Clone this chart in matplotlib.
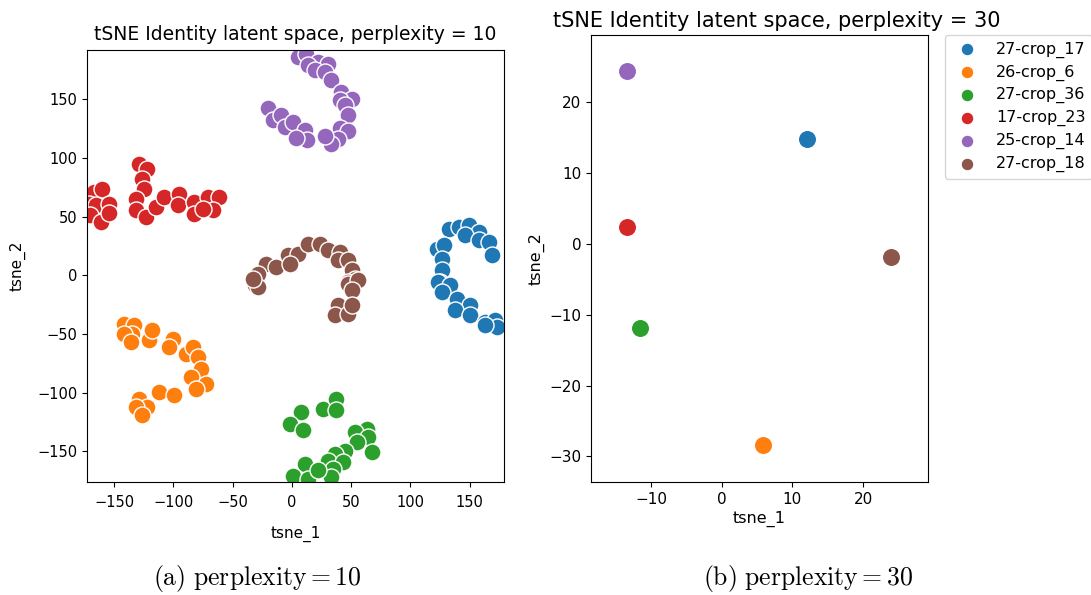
import matplotlib
matplotlib.use("Agg")
import matplotlib.pyplot as plt

plt.rcParams['mathtext.fontset'] = 'cm'

labels = ["27-crop_17", "26-crop_6", "27-crop_36", "17-crop_23", "25-crop_14", "27-crop_18"]
colors = ["#1f77b4", "#ff7f0e", "#2ca02c", "#d62728", "#9467bd", "#8c564b"]

# perplexity = 10 embedding, one pair of lists per identity
blue_x = [132.2, 140.7, 149.2, 157.6, 146.3, 157.6, 166.1, 169.0, 122.3, 128.0, 126.6, 126.6, 125.1,
          123.7, 133.6, 126.6, 139.3, 150.6, 137.9, 150.6, 163.3, 171.8, 173.2, 163.3]
blue_y = [39.8, 41.2, 42.6, 37.0, 34.1, 29.8, 28.4, 17.1, 22.7, 25.6, 14.2, 4.3, -5.7,
          -5.7, -8.5, -14.2, -19.9, -25.6, -29.8, -34.1, -39.8, -38.4, -44.0, -42.6]
orange_x = [-141.8, -133.3, -134.7, -141.8, -136.1, -120.6, -117.8, -100.8, -103.7, -89.5, -83.9,
            -79.7, -76.8, -85.3, -72.6, -81.1, -112.1, -99.4, -129.1, -122.0, -131.9, -126.3]
orange_y = [-41.2, -42.6, -49.7, -49.7, -56.8, -55.4, -46.9, -54.0, -61.1, -66.8, -61.1,
            -69.6, -79.6, -86.7, -92.3, -96.6, -99.4, -102.3, -105.1, -112.2, -112.2, -119.3]
green_x = [7.9, -2.0, 9.3, 26.3, 37.6, 37.6, 63.0, 53.1, 64.4, 54.5, 67.2, 44.6, 36.2, 30.5,
           43.2, 34.8, 10.7, 0.9, 13.6, 33.3, 22.0]
green_y = [-116.5, -126.4, -132.1, -113.6, -105.1, -115.0, -130.7, -133.5, -137.8, -142.0, -150.6,
           -149.2, -152.0, -157.7, -159.1, -164.8, -160.5, -170.5, -173.3, -171.9, -166.2]
red_x = [-167.2, -160.2, -171.5, -165.8, -154.5, -170.1, -161.6, -154.5, -129.1, -122.0, -126.3,
         -124.9, -131.9, -131.9, -123.4, -115.0, -107.9, -95.2, -96.6, -82.5, -82.5, -71.2, -61.3,
         -66.9, -75.4]
red_y = [71.0, 73.9, 61.1, 59.7, 61.1, 51.2, 45.5, 53.1, 95.2, 90.9, 82.4, 73.9, 65.4, 55.4, 49.7,
         58.3, 66.8, 69.6, 59.7, 62.5, 52.6, 66.8, 66.8, 55.4, 56.8]
purple_x = [5.1, 12.2, 22.0, 30.5, 13.6, 19.2, 27.7, 32.8, 41.8, 50.3, 40.4, 44.6, 47.5, 40.4, 47.5,
            39.0, 33.3, 27.7, -20.3, -16.1, -9.0, -6.2, 0.9, 10.7, 13.0, 3.7]
purple_y = [186.1, 188.9, 181.8, 180.4, 179.0, 174.7, 173.3, 166.8, 156.3, 150.6, 149.2, 144.9, 136.4,
            125.9, 123.0, 116.5, 112.2, 118.5, 142.6, 132.7, 136.4, 126.4, 130.7, 123.6, 115.6, 117.3]
brown_x = [-21.8, -28.8, -31.6, -13.3, -3.4, 5.1, 13.6, 23.5, 30.5, 40.4, 39.0, 47.5, 50.3, 53.1,
           47.5, -28.8, -33.0, -2.0, 47.5, 56.0, 50.3, 39.0, 36.2, 47.5, 50.3]
brown_y = [10.0, 1.4, -8.5, 7.1, 17.1, 18.5, 27.0, 27.0, 21.3, 19.9, 12.8, 12.8, 4.3, -2.8,
           -5.7, -10.0, -2.8, 10.0, -7.1, -4.3, -12.8, -25.6, -34.1, -32.7, -25.6]

p10_x = [blue_x, orange_x, green_x, red_x, purple_x, brown_x]
p10_y = [blue_y, orange_y, green_y, red_y, purple_y, brown_y]

# perplexity = 30 embedding, identities collapse to single spots
p30_x = [12.1, 5.9, -11.5, -13.4, -13.35, 24.0]
p30_y = [14.8, -28.4, -11.8, 2.35, 24.4, -1.8]

fig = plt.figure(figsize=(10.91, 5.95), dpi=100)
ax1 = fig.add_axes([87 / 1091, 1 - 482 / 595, 417 / 1091, 432 / 595])
ax2 = fig.add_axes([591 / 1091, 1 - 482 / 595, 337 / 1091, 447 / 595])

for i, lab in enumerate(labels):
    ax1.scatter(p10_x[i], p10_y[i], s=150, color=colors[i], edgecolor="white", linewidth=1, label=lab)
    ax2.scatter(p30_x[i], p30_y[i], s=175, color=colors[i], edgecolor="white", linewidth=1, label=lab)

ax1.set_xlim(-173, 179)
ax1.set_ylim(-176, 192)
ax1.set_xticks([-150, -100, -50, 0, 50, 100, 150])
ax1.set_yticks([-150, -100, -50, 0, 50, 100, 150])
ax1.tick_params(labelsize=10.5)
ax1.tick_params(axis="x", pad=6)
ax1.set_xlabel("tsne_1", fontsize=11, labelpad=11)
ax1.set_ylabel("tsne_2", fontsize=11, labelpad=8)
ax1.set_title("tSNE Identity latent space, perplexity = 10", fontsize=13.5, pad=7)

ax2.set_xlim(-18.5, 29.2)
ax2.set_ylim(-33.6, 29.5)
ax2.set_xticks([-10, 0, 10, 20])
ax2.set_yticks([-30, -20, -10, 0, 10, 20])
ax2.tick_params(labelsize=11)
ax2.set_xlabel("tsne_1", fontsize=11.5, labelpad=3)
ax2.set_ylabel("tsne_2", fontsize=11.5, labelpad=3)
ax2.set_title("tSNE Identity latent space, perplexity = 30", fontsize=15, x=0.55, pad=6)
ax2.legend(loc="upper left", bbox_to_anchor=(1.05, 1.0), borderaxespad=0,
           fontsize=11.5, markerscale=0.7, labelspacing=0.42)

fig.text(257 / 1091, 1 - 578 / 595, r"$\mathrm{(a)\ perplexity} = 10$", fontsize=18.5, ha="center", va="center")
fig.text(808 / 1091, 1 - 578 / 595, r"$\mathrm{(b)\ perplexity} = 30$", fontsize=18.5, ha="center", va="center")

fig.savefig("out.png", dpi=100)
